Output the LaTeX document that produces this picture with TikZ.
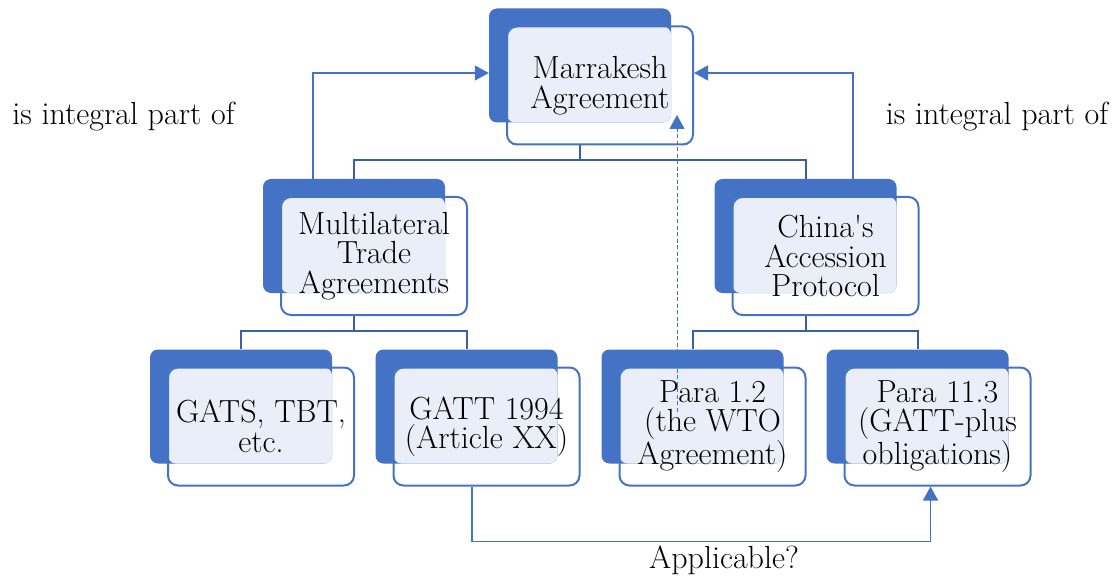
\documentclass[tikz,border=0pt]{standalone}
\usepackage{fontspec}
\usepackage{tikz}
\usetikzlibrary{arrows.meta, positioning, calc}
\definecolor{smblue}{HTML}{4472C4}
\definecolor{smtint}{HTML}{E9EEF8}
\definecolor{smline}{HTML}{3A5EA8}
\tikzset{
  back/.style={fill=smblue, rounded corners=8pt, inner sep=0pt,
               minimum width=182pt, minimum height=114pt},
  tint/.style={fill=smtint, rounded corners=8pt, inner sep=0pt,
               minimum width=164pt, minimum height=96pt, anchor=south east},
  front/.style={draw=smblue, line width=2pt, rounded corners=10pt,
                minimum width=186pt, minimum height=118pt, inner sep=0pt,
                align=center, font=\fontsize{32}{29.5}\selectfont},
  tree/.style={draw=smline, line width=2pt},
  link/.style={draw=smblue, line width=1.2pt,
               -{Triangle[length=14pt,width=15pt]}},
  hint/.style={link, line width=1pt, dash pattern=on 4pt off 2.5pt},
  note/.style={font=\fontsize{32}{29.5}\selectfont}
}

\begin{document}
\begin{tikzpicture}[x=1pt, y=-1pt]
  \useasboundingbox (0,0) rectangle (1115,577);

  % Top level
  \node[back] (mkb) at (580,65.5) {};
  \node[tint] at (mkb.south east) {};
  \node[front] (mk) at ([shift={(20,20)}]mkb.center) {Marrakesh\\Agreement};

  % Second level
  \node[back] (mtab) at (354,236) {};
  \node[tint] at (mtab.south east) {};
  \node[front] (mta) at ([shift={(20,20)}]mtab.center) {Multilateral\\Trade\\Agreements};

  \node[back] (cnb) at (805.5,236) {};
  \node[tint] at (cnb.south east) {};
  \node[front] (cn) at ([shift={(20,20)}]cnb.center) {China\textquotesingle s\\Accession\\Protocol};

  % Third level
  \node[back] (gatsb) at (241,406.5) {};
  \node[tint] at (gatsb.south east) {};
  \node[front] (gats) at ([shift={(20,20)}]gatsb.center) {GATS, TBT,\\etc.};

  \node[back] (gattb) at (466.5,406.5) {};
  \node[tint] at (gattb.south east) {};
  \node[front] (gatt) at ([shift={(20,20)}]gattb.center) {GATT 1994\\(Article XX)};

  \node[back] (p12b) at (692.5,406.5) {};
  \node[tint] at (p12b.south east) {};
  \node[front] (p12) at ([shift={(20,20)}]p12b.center) {Para 1.2\\(the WTO\\Agreement)};

  \node[back] (p113b) at (917.5,406.5) {};
  \node[tint] at (p113b.south east) {};
  \node[front] (p113) at ([shift={(20,20)}]p113b.center) {Para 11.3\\(GATT-plus\\obligations)};

  % Labels
  \node[note] (intl) at (123.5,117) {is integral part of};
  \node[note] (intr) at (997,117) {is integral part of};
  \node[note] (appl) at (724,560) {Applicable?};

  % Tree connectors
  \draw[tree] (mkb |- mk.south) -- ++(0,15) -| (mtab.north);
  \draw[tree] (mkb |- mk.south) -- ++(0,15) -| (cnb.north);
  \draw[tree] (mtab |- mta.south) -- ++(0,15) -| (gatsb.north);
  \draw[tree] (mtab |- mta.south) -- ++(0,15) -| (gattb.north);
  \draw[tree] (cnb |- cn.south) -- ++(0,15) -| (p12b.north);
  \draw[tree] (cnb |- cn.south) -- ++(0,15) -| (p113b.north);

  % Arrows
  \draw[link] ([xshift=-41pt]mtab.north) |- ([yshift=-7.5pt]mkb.west);
  \draw[link] ([xshift=47.5pt]cnb.north) |- ([yshift=12.5pt]mk.east);
  \draw[link] ([xshift=-14.5pt]gatt.south) -- ++(0,55)
      -| ([xshift=-7pt]p113.south);
  \coordinate (dbot) at ([shift={(-35.5,-15)}]p12.center);
  \coordinate (dtop) at ([shift={(77,29.5)}]mk.center);
  \draw[hint] (dbot) -- (dbot |- dtop);
\end{tikzpicture}
\end{document}
